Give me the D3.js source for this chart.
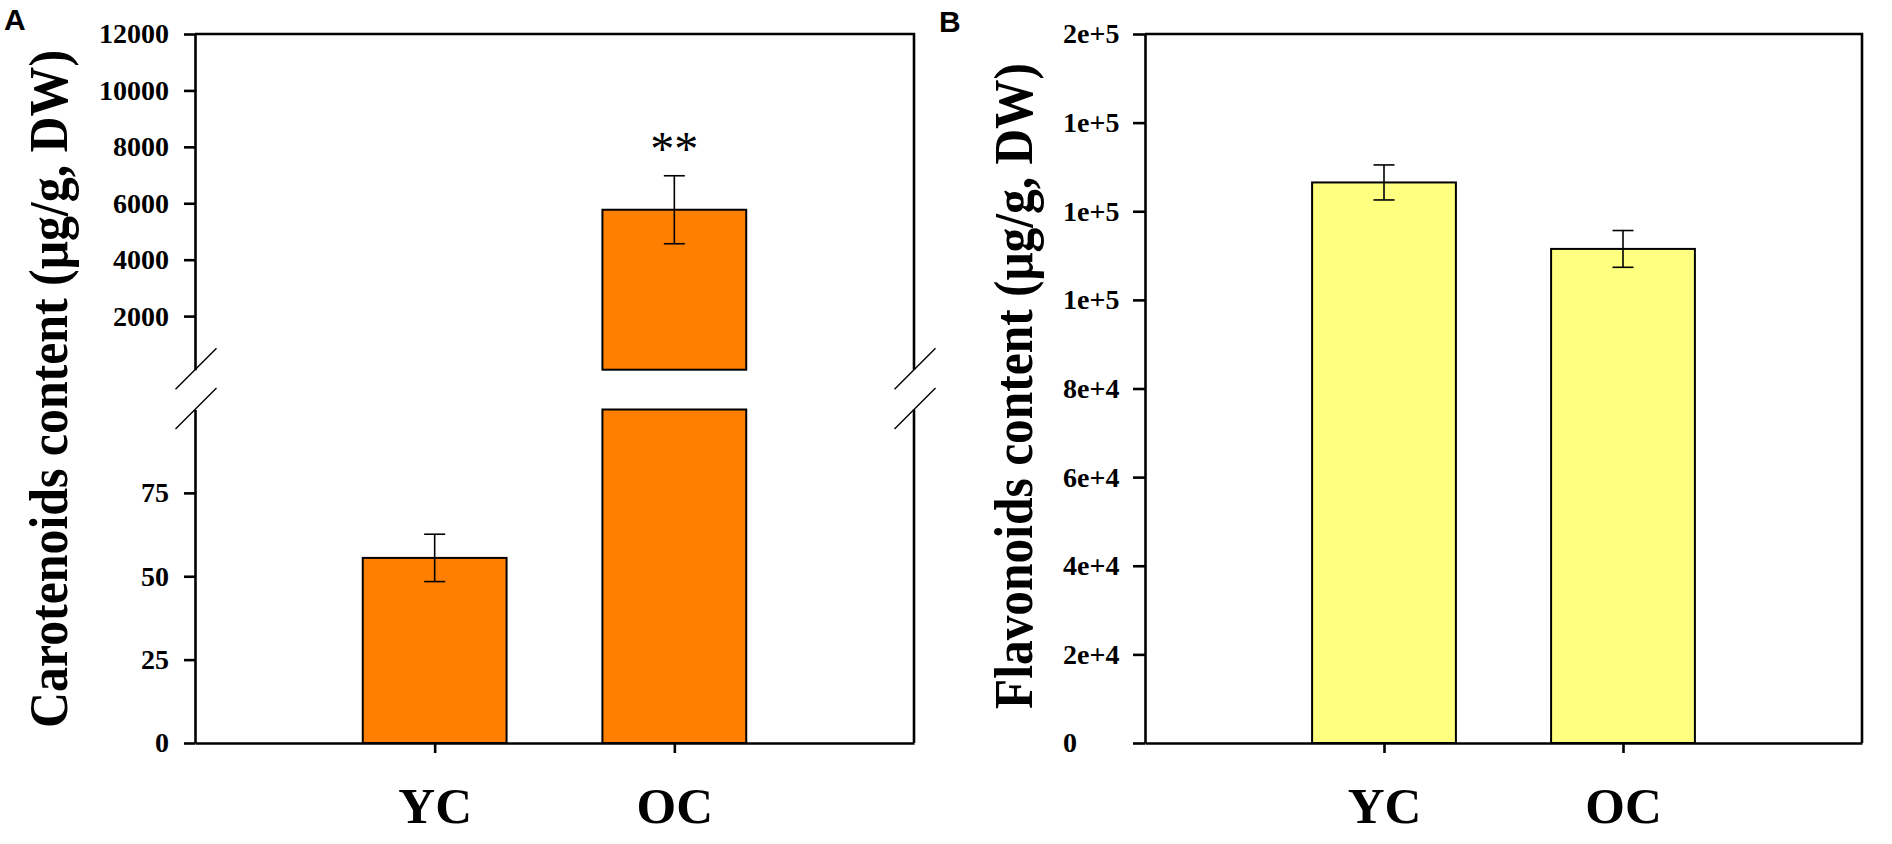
<!DOCTYPE html>
<html>
<head>
<meta charset="utf-8">
<script src="https://cdn.jsdelivr.net/npm/d3@7"></script>
<style>
  body { margin: 0; background: #fff; }
  svg { display: block; }
  .tick text { font-family: "Liberation Serif", "Times New Roman", serif; font-weight: bold; }
</style>
</head>
<body>
<svg id="chart" width="1892" height="844"></svg>
<script>
// data
const categories = ["YC", "OC"];
const carotenoidMean = [55.5, 5770];
const carotenoidErr = [7.1, 1205];
const flavonoidMean = [126500, 111500];
const flavonoidErr = [3950, 4150];

const caroLowTicks = [0, 25, 50, 75];
const caroHighTicks = [2000, 4000, 6000, 8000, 10000, 12000];
const flavTicks = [0, 20000, 40000, 60000, 80000, 100000, 120000, 140000, 160000];
const flavTickLabels = ["0", "2e+4", "4e+4", "6e+4", "8e+4", "1e+5", "1e+5", "1e+5", "2e+5"];

const svg = d3.select("#chart");
const serif = '"Liberation Serif", "Times New Roman", serif';
const sans = '"Liberation Sans", Arial, sans-serif';
const axisW = 2.6;

const plotTop = 34;
const plotBottom = 743;
const breakHi = 369.7; // end of upper segment
const breakLo = 409.5; // start of lower segment

// ---------- shared bits ----------
const styleAxis = (g) => {
  g.select(".domain").attr("stroke", "#000").attr("stroke-width", axisW);
  g.selectAll(".tick line").attr("stroke", "#000").attr("stroke-width", axisW);
  g.selectAll(".tick text").attr("fill", "#000").attr("font-size", 28);
};

const xAxisFor = (xScale) => {
  const g = svg.append("g")
    .attr("transform", `translate(0,${plotBottom})`)
    .call(d3.axisBottom(xScale).tickSize(10).tickSizeOuter(0).tickPadding(34));
  styleAxis(g);
  g.selectAll(".tick text").attr("font-size", 51);
  return g;
};

const errorBar = (g, x, yHi, yLo) => {
  const cap = 10.5;
  g.append("line").attr("x1", x).attr("x2", x).attr("y1", yHi).attr("y2", yLo);
  g.append("line").attr("x1", x - cap).attr("x2", x + cap).attr("y1", yHi).attr("y2", yHi);
  g.append("line").attr("x1", x - cap).attr("x2", x + cap).attr("y1", yLo).attr("y2", yLo);
  g.selectAll("line").attr("stroke", "#000").attr("stroke-width", 1.6);
};

const breakMarks = (x) => {
  [breakHi, breakLo].forEach((y) => {
    svg.append("line")
      .attr("x1", x - 19.5).attr("y1", y + 19.5)
      .attr("x2", x + 21.5).attr("y2", y - 21.5)
      .attr("stroke", "#000").attr("stroke-width", 1.5);
  });
};

// ---------- panel A: carotenoids, broken axis ----------
const aLeft = 195, aRight = 914;

const xA = d3.scalePoint().domain(categories).range([aLeft, aRight]).padding(1);
const barW = xA.step() * 0.6;

const yLow = d3.scaleLinear().domain([0, 100]).range([plotBottom, breakLo]);
const yHigh = d3.scaleLinear().domain([100, 12000]).range([breakHi, plotTop]);

const caroBars = svg.append("g");
categories.forEach((c, i) => {
  const v = carotenoidMean[i];
  const x0 = xA(c) - barW / 2;
  caroBars.append("rect")
    .attr("x", x0).attr("width", barW)
    .attr("y", yLow(Math.min(v, 100)))
    .attr("height", yLow(0) - yLow(Math.min(v, 100)));
  if (v > 100) {
    caroBars.append("rect")
      .attr("x", x0).attr("width", barW)
      .attr("y", yHigh(v))
      .attr("height", yHigh(100) - yHigh(v));
  }
});
caroBars.selectAll("rect")
  .attr("fill", "#FF8000").attr("stroke", "#000").attr("stroke-width", 2);

const caroErr = svg.append("g");
categories.forEach((c, i) => {
  const v = carotenoidMean[i], e = carotenoidErr[i];
  const s = v > 100 ? yHigh : yLow;
  errorBar(caroErr, xA(c), s(v + e), s(v - e));
});

// significance stars on OC
svg.append("text")
  .attr("x", xA("OC"))
  .attr("y", yHigh(carotenoidMean[1] + carotenoidErr[1]) - 10.5)
  .attr("text-anchor", "middle")
  .attr("font-family", serif)
  .attr("font-size", 48)
  .text("**");

const aHighAxis = svg.append("g")
  .attr("transform", `translate(${aLeft},0)`)
  .call(d3.axisLeft(yHigh).tickValues(caroHighTicks).tickSize(11).tickSizeOuter(0).tickPadding(15).tickFormat(d3.format("d")));
styleAxis(aHighAxis);

const aLowAxis = svg.append("g")
  .attr("transform", `translate(${aLeft},0)`)
  .call(d3.axisLeft(yLow).tickValues(caroLowTicks).tickSize(11).tickSizeOuter(0).tickPadding(15).tickFormat(d3.format("d")));
styleAxis(aLowAxis);

// top + right frame, right side broken too
svg.append("path")
  .attr("d", `M${aLeft},${plotTop}H${aRight}V${breakHi}M${aRight},${breakLo}V${plotBottom}`)
  .attr("fill", "none").attr("stroke", "#000").attr("stroke-width", axisW);

breakMarks(aLeft);
breakMarks(aRight);
xAxisFor(xA);

svg.append("text")
  .attr("transform", "rotate(-90)")
  .attr("x", -389).attr("y", 67)
  .attr("text-anchor", "middle")
  .attr("font-family", serif).attr("font-weight", "bold")
  .attr("font-size", 54)
  .attr("textLength", 678).attr("lengthAdjust", "spacingAndGlyphs")
  .text("Carotenoids content (μg/g, DW)");

// ---------- panel B: flavonoids ----------
const bLeft = 1145, bRight = 1862;

const xB = d3.scalePoint().domain(categories).range([bLeft, bRight]).padding(1);
const yB = d3.scaleLinear().domain([0, 160000]).range([plotBottom, plotTop]);

svg.append("g")
  .selectAll("rect")
  .data(categories)
  .join("rect")
  .attr("x", (d) => xB(d) - barW / 2)
  .attr("width", barW)
  .attr("y", (d, i) => yB(flavonoidMean[i]))
  .attr("height", (d, i) => yB(0) - yB(flavonoidMean[i]))
  .attr("fill", "#FFFF80").attr("stroke", "#000").attr("stroke-width", 2);

const flavErr = svg.append("g");
categories.forEach((c, i) => {
  errorBar(flavErr, xB(c), yB(flavonoidMean[i] + flavonoidErr[i]), yB(flavonoidMean[i] - flavonoidErr[i]));
});

const bAxis = svg.append("g")
  .attr("transform", `translate(${bLeft},0)`)
  .call(d3.axisLeft(yB).tickValues(flavTicks).tickSize(12).tickSizeOuter(0)
    .tickFormat((d, i) => flavTickLabels[i]));
styleAxis(bAxis);
// sigmaplot left-aligns these labels
bAxis.selectAll(".tick text").attr("text-anchor", "start").attr("x", -82);

svg.append("path")
  .attr("d", `M${bLeft},${plotTop}H${bRight}V${plotBottom}`)
  .attr("fill", "none").attr("stroke", "#000").attr("stroke-width", axisW);

xAxisFor(xB);

svg.append("text")
  .attr("transform", "rotate(-90)")
  .attr("x", -386).attr("y", 1032)
  .attr("text-anchor", "middle")
  .attr("font-family", serif).attr("font-weight", "bold")
  .attr("font-size", 54)
  .attr("textLength", 646).attr("lengthAdjust", "spacingAndGlyphs")
  .text("Flavonoids content (μg/g, DW)");

// panel letters
svg.append("text").attr("x", 4).attr("y", 30)
  .attr("font-family", sans).attr("font-weight", "bold").attr("font-size", 30).text("A");
svg.append("text").attr("x", 939).attr("y", 32)
  .attr("font-family", sans).attr("font-weight", "bold").attr("font-size", 30).text("B");
</script>
</body>
</html>
